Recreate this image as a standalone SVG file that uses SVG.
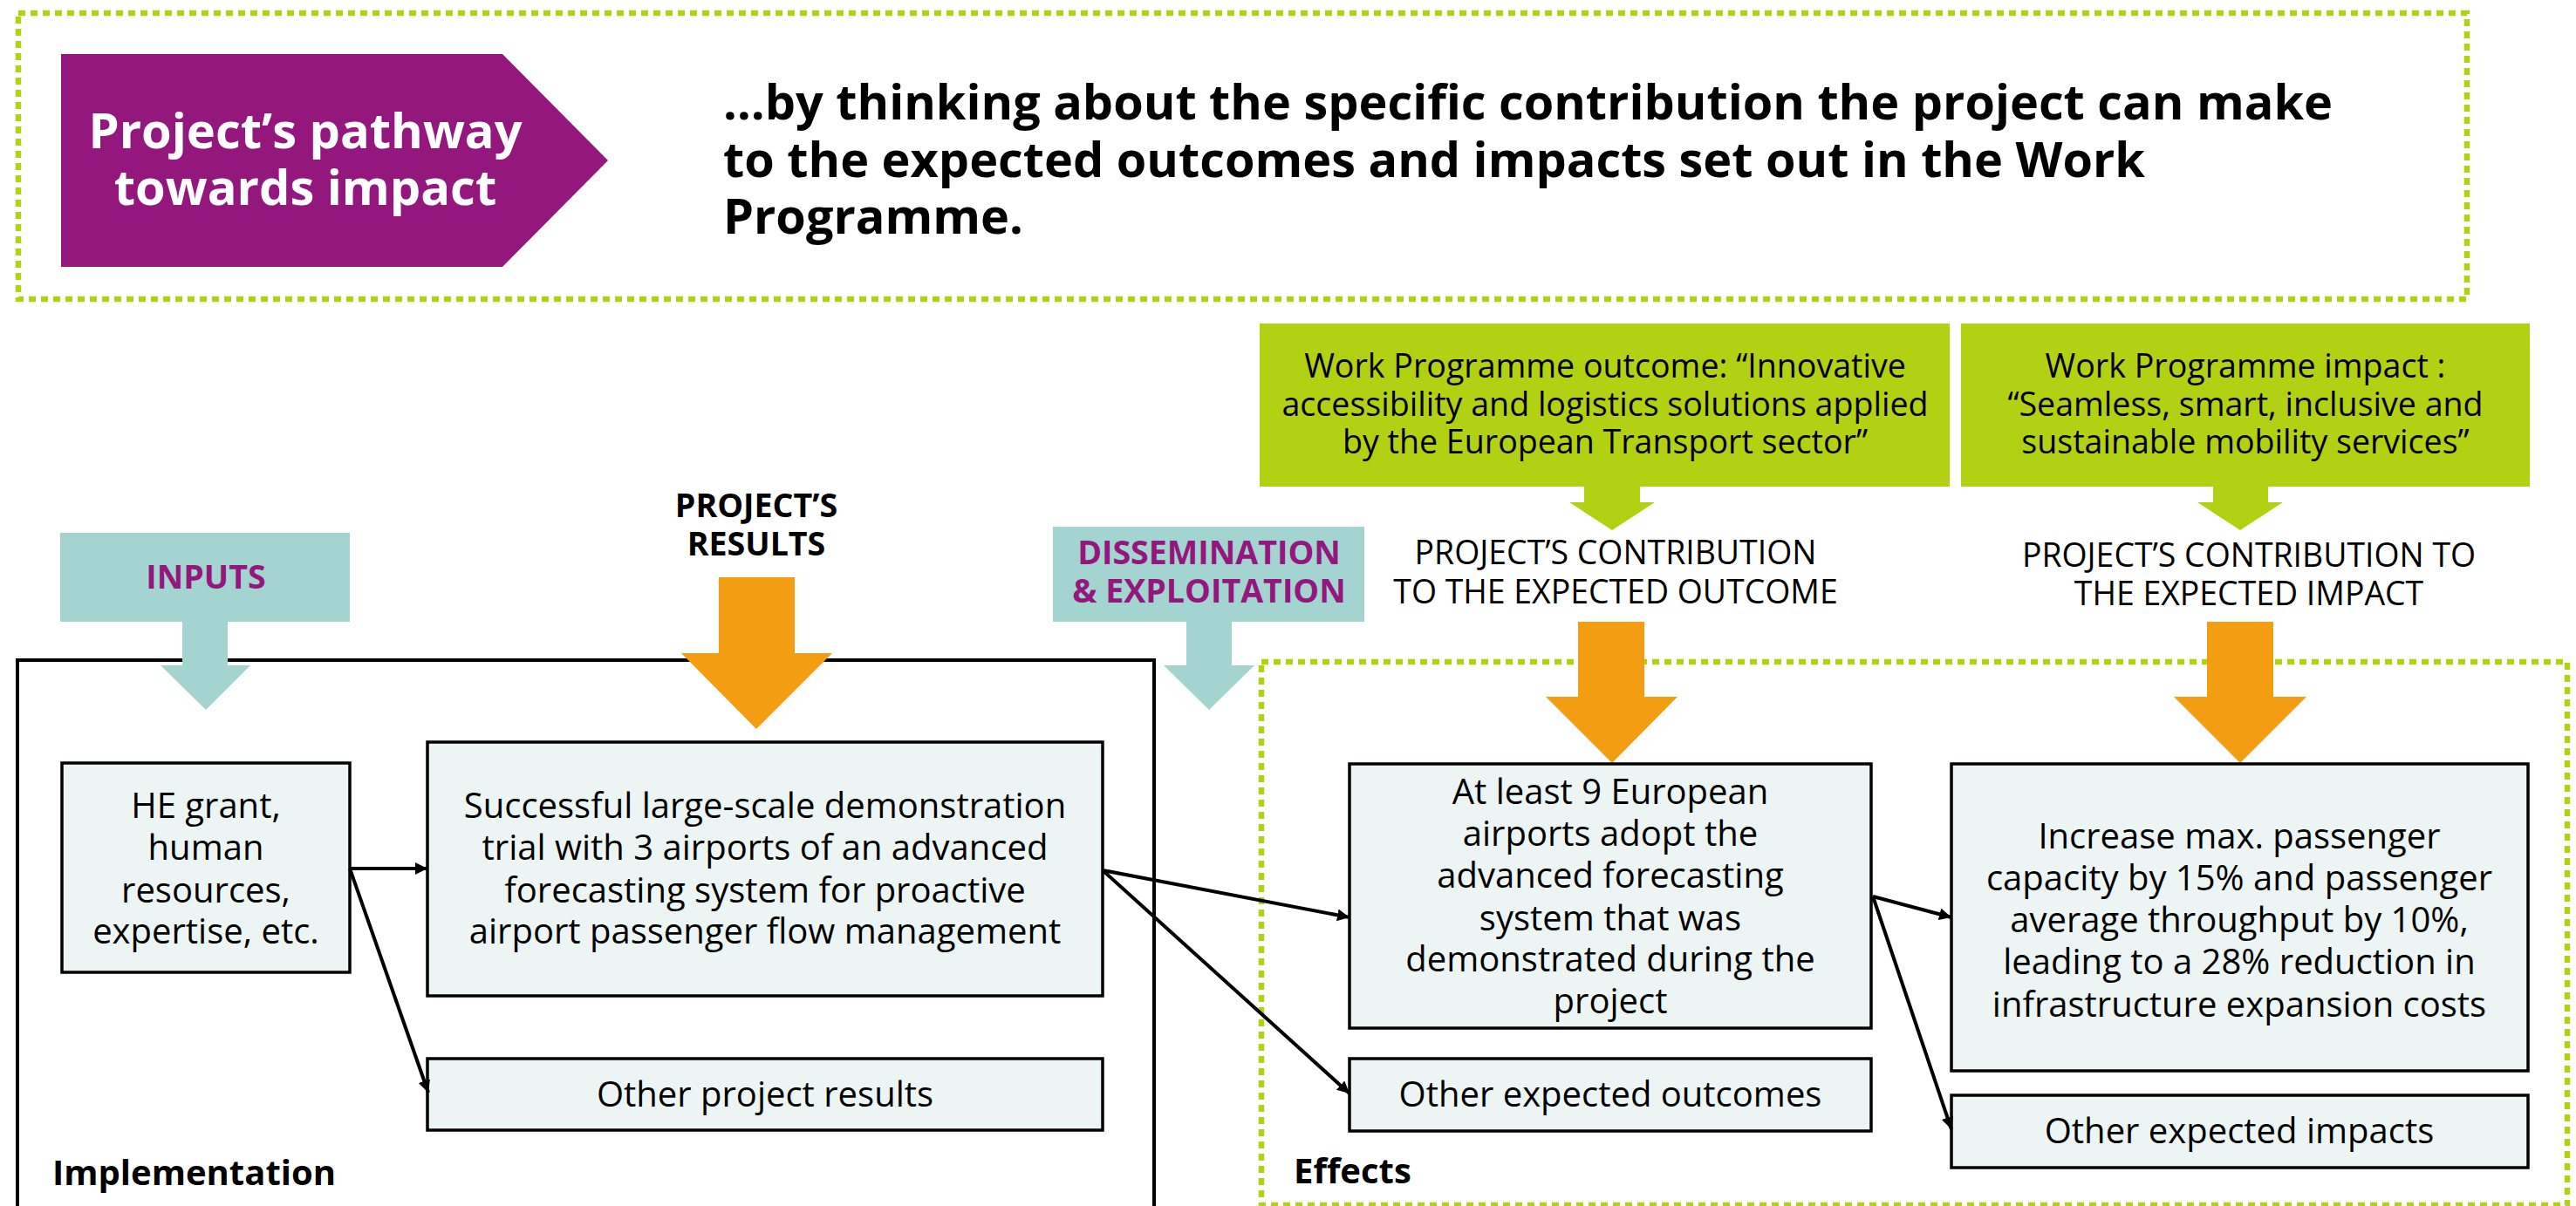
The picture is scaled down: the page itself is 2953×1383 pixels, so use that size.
<svg xmlns="http://www.w3.org/2000/svg" width="2953" height="1383" viewBox="0 0 2953 1383">
  <defs>
    <style>
      text { font-family: "Open Sans", "Noto Sans", "Liberation Sans", sans-serif; }
      .box { fill: #ecf5f4; stroke: #000; stroke-width: 3.5; }
      .node { font-size: 40px; fill: #000; text-anchor: middle; }
      .wp { font-size: 37.6px; fill: #000; text-anchor: middle; }
      .hdr { font-size: 37.4px; fill: #000; text-anchor: middle; }
      .hdrb { font-size: 37.6px; font-weight: bold; fill: #000; text-anchor: middle; }
      .pur { font-size: 37.6px; font-weight: bold; fill: #93177d; text-anchor: middle; }
      .lbl { font-size: 40px; font-weight: bold; fill: #000; }
      .title { font-size: 55.8px; font-weight: bold; fill: #000; }
      .dash { fill: none; stroke: #b2d112; stroke-width: 6.5; stroke-dasharray: 8 6; }
      .teal { fill: #a3d4cf; }
      .orange { fill: #f39e12; }
      .lime { fill: #b2d112; }
      .conn { fill: none; stroke: #000; stroke-width: 4; }
    </style>
    <marker id="arr" markerUnits="userSpaceOnUse" markerWidth="15" markerHeight="15" refX="14" refY="7" orient="auto">
      <path d="M0,0 L14,7 L0,14 z" fill="#000"/>
    </marker>
  </defs>
  <rect width="2953" height="1383" fill="#fff"/>

  <!-- Header -->
  <g id="header">
    <rect class="dash" x="21" y="15" width="2807" height="328"/>
    <polygon points="70,62 576,62 697,184 576,306 70,306" fill="#93177d"/>
    <text x="350" y="170" font-size="56" font-weight="bold" fill="#fff" text-anchor="middle">Project’s pathway</text>
    <text x="350" y="235" font-size="56" font-weight="bold" fill="#fff" text-anchor="middle">towards impact</text>
    <text class="title" x="829" y="137">…by thinking about the specific contribution the project can make</text>
    <text class="title" x="829" y="203">to the expected outcomes and impacts set out in the Work</text>
    <text class="title" x="829" y="268">Programme.</text>
  </g>

  <!-- Containers -->
  <g id="implementation">
    <rect x="20" y="757" width="1303" height="640" fill="none" stroke="#000" stroke-width="4"/>
    <text class="lbl" x="60" y="1359">Implementation</text>
  </g>
  <g id="effects">
    <rect class="dash" x="1446" y="759" width="1497" height="623"/>
    <text class="lbl" x="1483" y="1357">Effects</text>
  </g>

  <!-- Inputs -->
  <g id="inputs">
    <rect class="teal" x="69" y="611" width="332" height="102"/>
    <polygon class="teal" points="209,713 261,713 261,763 287,763 236,814 184,763 209,763"/>
    <text class="pur" x="236" y="675">INPUTS</text>
  </g>

  <!-- Project's results -->
  <g id="results-header">
    <text class="hdrb" x="867" y="593">PROJECT’S</text>
    <text class="hdrb" x="867" y="637">RESULTS</text>
    <polygon class="orange" points="824,662 911,662 911,749 954,749 867,836 781,749 824,749"/>
  </g>

  <!-- Dissemination -->
  <g id="dissemination">
    <rect class="teal" x="1207" y="604" width="357" height="109"/>
    <polygon class="teal" points="1360,713 1412,713 1412,763 1438,763 1386,814 1334,763 1360,763"/>
    <text class="pur" x="1386" y="647">DISSEMINATION</text>
    <text class="pur" x="1386" y="691">&amp; EXPLOITATION</text>
  </g>

  <!-- WP outcome -->
  <g id="wp-outcome">
    <rect class="lime" x="1444" y="371" width="791" height="187"/>
    <text class="wp" x="1840" y="433">Work Programme outcome: “Innovative</text>
    <text class="wp" x="1840" y="477">accessibility and logistics solutions applied</text>
    <text class="wp" x="1840" y="520">by the European Transport sector”</text>
    <polygon class="lime" points="1816,558 1880,558 1880,576 1897,576 1848,608 1799,576 1816,576"/>
    <text class="hdr" x="1852" y="647">PROJECT’S CONTRIBUTION</text>
    <text class="hdr" x="1852" y="692">TO THE EXPECTED OUTCOME</text>
    <polygon class="orange" points="1809,713 1885,713 1885,799 1923,799 1848,875 1772,799 1809,799"/>
  </g>

  <!-- WP impact -->
  <g id="wp-impact">
    <rect class="lime" x="2248" y="371" width="652" height="187"/>
    <text class="wp" x="2574" y="433">Work Programme impact :</text>
    <text class="wp" x="2574" y="477">“Seamless, smart, inclusive and</text>
    <text class="wp" x="2574" y="520">sustainable mobility services”</text>
    <polygon class="lime" points="2537,558 2600,558 2600,576 2617,576 2568,608 2519,576 2537,576"/>
    <text class="hdr" x="2578" y="650">PROJECT’S CONTRIBUTION TO</text>
    <text class="hdr" x="2578" y="694">THE EXPECTED IMPACT</text>
    <polygon class="orange" points="2530,713 2606,713 2606,799 2644,799 2568,875 2492,799 2530,799"/>
  </g>

  <!-- Nodes -->
  <g id="he-grant">
    <rect class="box" x="71" y="875" width="330" height="240"/>
    <text class="node" x="236" y="938">HE grant,</text>
    <text class="node" x="236" y="986">human</text>
    <text class="node" x="236" y="1035">resources,</text>
    <text class="node" x="236" y="1082">expertise, etc.</text>
  </g>
  <g id="successful-trial">
    <rect class="box" x="490" y="851" width="774" height="291"/>
    <text class="node" x="877" y="938">Successful large-scale demonstration</text>
    <text class="node" x="877" y="986">trial with 3 airports of an advanced</text>
    <text class="node" x="877" y="1035">forecasting system for proactive</text>
    <text class="node" x="877" y="1082">airport passenger flow management</text>
  </g>
  <g id="other-results">
    <rect class="box" x="490" y="1214" width="774" height="82"/>
    <text class="node" x="877" y="1269">Other project results</text>
  </g>
  <g id="at-least-9">
    <rect class="box" x="1547" y="876" width="598" height="303"/>
    <text class="node" x="1846" y="922">At least 9 European</text>
    <text class="node" x="1846" y="970">airports adopt the</text>
    <text class="node" x="1846" y="1018">advanced forecasting</text>
    <text class="node" x="1846" y="1067">system that was</text>
    <text class="node" x="1846" y="1114">demonstrated during the</text>
    <text class="node" x="1846" y="1162">project</text>
  </g>
  <g id="other-outcomes">
    <rect class="box" x="1547" y="1214" width="598" height="83"/>
    <text class="node" x="1846" y="1269">Other expected outcomes</text>
  </g>
  <g id="increase">
    <rect class="box" x="2237" y="876" width="661" height="352"/>
    <text class="node" x="2567" y="973">Increase max. passenger</text>
    <text class="node" x="2567" y="1021">capacity by 15% and passenger</text>
    <text class="node" x="2567" y="1069">average throughput by 10%,</text>
    <text class="node" x="2567" y="1117">leading to a 28% reduction in</text>
    <text class="node" x="2567" y="1166">infrastructure expansion costs</text>
  </g>
  <g id="other-impacts">
    <rect class="box" x="2237" y="1256" width="661" height="83"/>
    <text class="node" x="2567" y="1311">Other expected impacts</text>
  </g>

  <!-- Connectors -->
  <g id="connectors">
    <line class="conn" x1="401" y1="996" x2="490" y2="996" marker-end="url(#arr)"/>
    <line class="conn" x1="401" y1="996" x2="491" y2="1253" marker-end="url(#arr)"/>
    <line class="conn" x1="1264" y1="998" x2="1547" y2="1052" marker-end="url(#arr)"/>
    <line class="conn" x1="1264" y1="998" x2="1547" y2="1254" marker-end="url(#arr)"/>
    <line class="conn" x1="2147" y1="1028" x2="2237" y2="1052" marker-end="url(#arr)"/>
    <line class="conn" x1="2147" y1="1028" x2="2237" y2="1295" marker-end="url(#arr)"/>
  </g>
</svg>
